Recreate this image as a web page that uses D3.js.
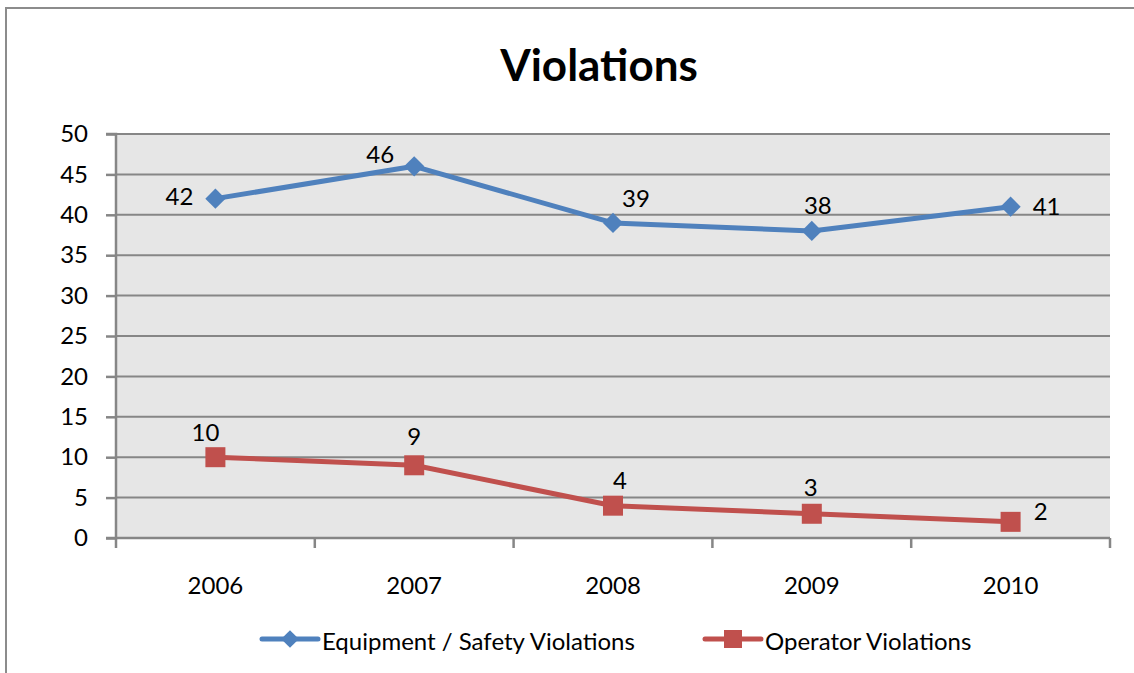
<!DOCTYPE html>
<html>
<head>
<meta charset="utf-8">
<script src="https://cdn.jsdelivr.net/npm/d3@7"></script>
<style>
  html, body { margin: 0; padding: 0; background: #fff; }
  svg { display: block; font-family: Lato, "Open Sans", sans-serif; }
</style>
</head>
<body>
<svg id="chart" width="1134" height="673"></svg>
<script>
// Yearly violation counts
const years = ["2006", "2007", "2008", "2009", "2010"];
const equipmentViolations = [42, 46, 39, 38, 41];
const operatorViolations = [10, 9, 4, 3, 2];
const yTicks = [0, 5, 10, 15, 20, 25, 30, 35, 40, 45, 50];
const seriesNames = ["Equipment / Safety Violations", "Operator Violations"];

// Label offsets from each point (dx, dy of label centre)
const equipmentLabelOffsets = [[-36, -3], [-34, -13], [23, -25], [6, -26], [36, -1]];
const operatorLabelOffsets = [[-10, -26], [0, -30], [7, -26], [-1, -27], [30, -11]];

const svg = d3.select("#chart");
const W = 1134, H = 673;
const plot = { left: 116, right: 1110, top: 134, bottom: 538 };

const blue = "#4F81BD", red = "#C0504D", grid = "#868686";

// Outer chart frame
svg.append("path")
  .attr("d", `M6,${H + 2} L6,8 L${W + 2},8`)
  .attr("fill", "none").attr("stroke", "#8c8c8c").attr("stroke-width", 2);

// Title
svg.append("text")
  .attr("x", 599).attr("y", 81)
  .attr("text-anchor", "middle")
  .attr("font-size", 44).attr("font-weight", "bold")
  .attr("fill", "#000")
  .text("Violations");

const x = d3.scaleBand().domain(years).range([plot.left, plot.right]);
const cx = d => x(d) + x.bandwidth() / 2;
const y = d3.scaleLinear().domain([0, 50]).range([plot.bottom, plot.top]);

// Plot background
svg.append("rect")
  .attr("x", plot.left).attr("y", plot.top)
  .attr("width", plot.right - plot.left).attr("height", plot.bottom - plot.top)
  .attr("fill", "#E6E6E6");

// Horizontal gridlines
svg.append("g").selectAll("line")
  .data(yTicks.filter(t => t > 0))
  .join("line")
  .attr("x1", plot.left).attr("x2", plot.right)
  .attr("y1", d => y(d)).attr("y2", d => y(d))
  .attr("stroke", grid).attr("stroke-width", 2);

// Y axis
const yAxis = d3.axisLeft(y).tickValues(yTicks).tickSize(10).tickPadding(18).tickFormat(d3.format("d"));
const gy = svg.append("g").attr("transform", `translate(${plot.left},0)`).call(yAxis);
gy.select(".domain").attr("stroke", grid).attr("stroke-width", 2.5).attr("d", `M-10,${plot.bottom}H0V${plot.top}H-10`);
gy.selectAll(".tick line").attr("stroke", grid).attr("stroke-width", 2.5);
gy.selectAll(".tick text").attr("font-size", 24).attr("fill", "#000").attr("font-family", "Lato, sans-serif");

// X axis with ticks between categories
const boundaries = years.map(d => x(d)).concat([plot.right]);
const gx = svg.append("g");
gx.append("line")
  .attr("x1", plot.left).attr("x2", plot.right)
  .attr("y1", plot.bottom).attr("y2", plot.bottom)
  .attr("stroke", grid).attr("stroke-width", 2.5);
gx.selectAll("line.tick")
  .data(boundaries)
  .join("line").attr("class", "tick")
  .attr("x1", d => d).attr("x2", d => d)
  .attr("y1", plot.bottom).attr("y2", plot.bottom + 10)
  .attr("stroke", grid).attr("stroke-width", 2.5);
gx.selectAll("text")
  .data(years)
  .join("text")
  .attr("x", d => cx(d)).attr("y", 584)
  .attr("text-anchor", "middle").attr("dominant-baseline", "central")
  .attr("font-size", 24).attr("fill", "#000")
  .text(d => d);

// Series lines
const line = d3.line().x((d, i) => cx(years[i])).y(d => y(d));

svg.append("path").datum(equipmentViolations)
  .attr("d", line).attr("fill", "none")
  .attr("stroke", blue).attr("stroke-width", 5).attr("stroke-linejoin", "round");
svg.append("path").datum(operatorViolations)
  .attr("d", line).attr("fill", "none")
  .attr("stroke", red).attr("stroke-width", 5).attr("stroke-linejoin", "round");

// Markers
const diamond = d3.symbol().type(d3.symbolDiamond2).size(260);
svg.append("g").selectAll("path")
  .data(equipmentViolations)
  .join("path")
  .attr("transform", (d, i) => `translate(${cx(years[i])},${y(d)})`)
  .attr("d", diamond).attr("fill", blue);

const sq = 20;
svg.append("g").selectAll("rect")
  .data(operatorViolations)
  .join("rect")
  .attr("x", (d, i) => cx(years[i]) - sq / 2)
  .attr("y", d => y(d) - sq / 2)
  .attr("width", sq).attr("height", sq)
  .attr("fill", red);

// Data labels
function labels(values, offsets) {
  svg.append("g").selectAll("text")
    .data(values)
    .join("text")
    .attr("x", (d, i) => cx(years[i]) + offsets[i][0])
    .attr("y", (d, i) => y(d) + offsets[i][1])
    .attr("text-anchor", "middle").attr("dominant-baseline", "central")
    .attr("font-size", 24).attr("fill", "#000")
    .text(d => d);
}
labels(equipmentViolations, equipmentLabelOffsets);
labels(operatorViolations, operatorLabelOffsets);

// Legend
const legend = [
  { name: seriesNames[0], color: blue, x: 262, marker: "diamond" },
  { name: seriesNames[1], color: red, x: 705, marker: "square" }
];
const ly = 639;
const lg = svg.append("g").selectAll("g").data(legend).join("g")
  .attr("transform", d => `translate(${d.x},${ly})`);
lg.append("line")
  .attr("x1", 0).attr("x2", 56).attr("y1", 0).attr("y2", 0)
  .attr("stroke", d => d.color).attr("stroke-width", 5).attr("stroke-linecap", "round");
lg.filter(d => d.marker === "diamond").append("path")
  .attr("transform", "translate(28,0)")
  .attr("d", d3.symbol().type(d3.symbolDiamond2).size(200)).attr("fill", blue);
lg.filter(d => d.marker === "square").append("rect")
  .attr("x", 19).attr("y", -9).attr("width", 18).attr("height", 18).attr("fill", red);
lg.append("text")
  .attr("x", 60).attr("y", 1)
  .attr("dominant-baseline", "central")
  .attr("font-size", 24).attr("fill", "#000")
  .text(d => d.name);
</script>
</body>
</html>
